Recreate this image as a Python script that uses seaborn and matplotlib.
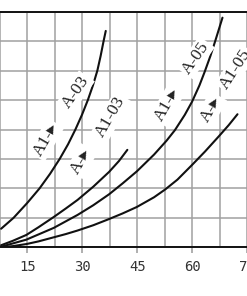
import matplotlib
matplotlib.use("Agg")
import matplotlib.pyplot as plt
import seaborn as sns
import pandas as pd
import numpy as np

# ---- data (flow on x, pressure-drop grid units on y) ----
flow_a03 = [7.8, 11.2, 14.9, 18.3, 21.2, 23.8, 26.1, 28.1, 29.9, 31.5,
            32.9, 34.1, 35.0, 35.8, 36.4]
dp_a03 = [0.63, 1.00, 1.50, 2.00, 2.50, 3.00, 3.50, 4.00, 4.50, 5.00,
          5.50, 6.00, 6.50, 7.00, 7.35]

flow_a103 = [7.8, 11.0, 14.7, 18.0, 22.2, 25.5, 28.7, 33.0, 37.3, 40.0, 42.3]
dp_a103 = [0.07, 0.22, 0.42, 0.68, 1.03, 1.32, 1.61, 2.06, 2.56, 2.93, 3.31]

flow_a05 = [7.8, 14.7, 22.2, 28.7, 33.0, 37.3, 41.0, 44.9, 49.6, 53.0,
            55.3, 58.0, 60.0, 62.0, 63.4, 65.0, 66.3, 68.3]
dp_a05 = [0.02, 0.26, 0.66, 1.10, 1.43, 1.80, 2.17, 2.58, 3.15, 3.62,
          3.98, 4.50, 4.95, 5.50, 5.95, 6.50, 7.00, 7.80]

flow_a105 = [7.8, 11.0, 14.7, 18.0, 22.2, 25.5, 28.7, 33.0, 37.3, 41.0,
             44.9, 49.6, 52.7, 56.0, 60.0, 63.5, 67.3, 70.0, 72.4]
dp_a105 = [0.00, 0.04, 0.11, 0.20, 0.34, 0.45, 0.57, 0.75, 0.96, 1.15,
           1.37, 1.70, 1.97, 2.30, 2.80, 3.25, 3.77, 4.15, 4.52]

curve_names = ["A-03", "A1-03", "A-05", "A1-05"]
x_ticks = [15, 30, 45, 60, 75]
x_tick_labels = ["15", "30", "45", "60", "75"]

frames = []
for name, fx, fy in zip(curve_names,
                        [flow_a03, flow_a103, flow_a05, flow_a105],
                        [dp_a03, dp_a103, dp_a05, dp_a105]):
    frames.append(pd.DataFrame({"flow": fx, "dp": fy, "curve": name}))
df = pd.concat(frames, ignore_index=True)

sns.set_style("white")

W, H = 247, 296
fig = plt.figure(figsize=(W / 100, H / 100), dpi=100)
ax = fig.add_axes([0.0, (H - 247.3) / H, 1.0, (247.3 - 11.8) / H])

sns.lineplot(data=df, x="flow", y="dp", hue="curve", units="curve",
             estimator=None, sort=False, palette=["#111111"] * 4,
             linewidth=1.5, legend=False, ax=ax, zorder=3)

ax.set_xlim(7.89, 72.2)
ax.set_ylim(0, 8)
ax.set_xlabel("")
ax.set_ylabel("")

ax.set_xticks(x_ticks)
ax.set_xticklabels(x_tick_labels, fontfamily="DejaVu Sans Mono", fontsize=10,
                   color="#333333")
ax.set_xticks(np.arange(7.5, 75, 7.5), minor=True)
ax.set_yticks(np.arange(0, 9, 1))
ax.set_yticklabels([])
ax.tick_params(axis="x", which="major", length=4, width=1.1, color="#9a9a9a",
               pad=5, direction="out", bottom=True)
ax.tick_params(axis="x", which="minor", length=0)
ax.tick_params(axis="y", length=0)

ax.grid(True, which="both", axis="x", color="#a0a0a0", linewidth=1.1, zorder=0)
ax.grid(True, which="major", axis="y", color="#a0a0a0", linewidth=1.1, zorder=0)

for side in ["left", "right"]:
    ax.spines[side].set_visible(False)
for side in ["top", "bottom"]:
    ax.spines[side].set_visible(True)
    ax.spines[side].set_color("#111111")
    ax.spines[side].set_linewidth(1.4)

# ---- curve labels ----
fam = ["Liberation Serif", "DejaVu Sans"]
labels = [
    ("A1-\u25b8", 20.1, 3.65, 60, "center"),
    ("A-03", 28.2, 5.28, 55, "center"),
    ("A-\u25b8", 29.8, 2.93, 60, "center"),
    ("A1-03", 37.8, 4.43, 60, "center"),
    ("A1-\u25b8", 53.2, 4.84, 60, "center"),
    ("A-05", 61.0, 6.44, 55, "center"),
    ("A-\u25b8", 65.2, 4.70, 60, "center"),
    ("A1-05", 68.6, 5.42, 57, "left"),
]
for txt, lx, ly, rot, ha in labels:
    ax.text(lx, ly, txt, rotation=rot, rotation_mode="anchor", ha=ha,
            va="center", fontsize=12.5, family=fam, color="#222222",
            zorder=4,
            bbox=dict(boxstyle="square,pad=0.1", fc="white", ec="none"))

fig.savefig("out.png", dpi=100)
